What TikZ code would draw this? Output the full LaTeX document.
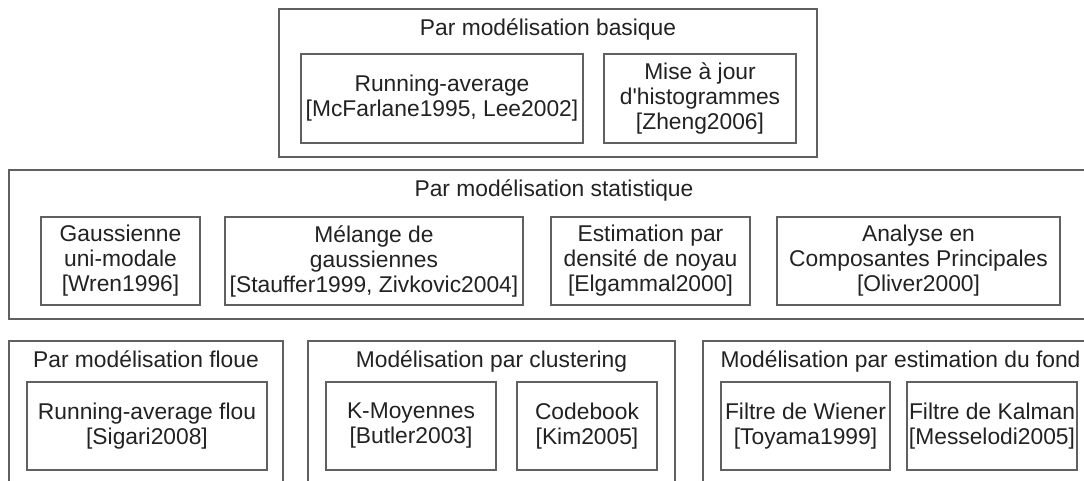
\documentclass[tikz,border=0pt]{standalone}
\usepackage{fontspec}
\setmainfont{Liberation Sans}[Ligatures=TeXOff]
\definecolor{linegray}{HTML}{606060}
\definecolor{textgray}{HTML}{222222}
\begin{document}
\begin{tikzpicture}[x=1pt,y=-1pt,
  txt/.style={font=\fontsize{22.8}{25}\selectfont, text=textgray, align=center, inner sep=0pt},
  outbox/.style={draw=linegray, line width=1.3pt, rectangle, inner sep=0pt},
  inbox/.style={txt, draw=linegray, line width=1.3pt, rectangle, minimum height=88pt},
  grouptitle/.style={txt, anchor=base}]
\clip (0,0) rectangle (1084,480);
\fill[white] (0,0) rectangle (1084,480);

% Par modelisation basique
\node[outbox, minimum width=538pt, minimum height=148pt] (basic) at (548,83) {};
\node[grouptitle] (basict) at (548,35) {Par modélisation basique};
\node[inbox, minimum width=282pt, minimum height=89pt] (ra) at (442,98.5) {Running-average\\{}[McFarlane1995, Lee2002]};
\node[inbox, minimum width=192pt, minimum height=89pt] (maj) at (700,98.5) {Mise à jour\\d'histogrammes\\{}[Zheng2006]};

% Par modelisation statistique
\node[outbox, minimum width=1090pt, minimum height=149pt] (stat) at (554,244.5) {};
\node[grouptitle] (statt) at (554,196) {Par modélisation statistique};
\node[inbox, minimum width=159pt] (gauss) at (120.5,261) {Gaussienne\\uni-modale\\{}[Wren1996]};
\node[inbox, minimum width=298pt] (mel) at (374,261) {Mélange de\\gaussiennes\\{}[Stauffer1999, Zivkovic2004]};
\node[inbox, minimum width=199pt] (est) at (650.5,261) {Estimation par\\densité de noyau\\{}[Elgammal2000]};
\node[inbox, minimum width=283pt] (acp) at (918.5,261) {Analyse en\\Composantes Principales\\{}[Oliver2000]};

% Par modelisation floue
\node[outbox, minimum width=274pt, minimum height=154pt] (floue) at (146,418) {};
\node[grouptitle] (flouet) at (146,367) {Par modélisation floue};
\node[inbox, minimum width=240pt] (raf) at (147,426) {Running-average flou\\{}[Sigari2008]};

% Modelisation par clustering
\node[outbox, minimum width=367pt, minimum height=154pt] (clust) at (491.5,418) {};
\node[grouptitle] (clustt) at (491.5,367) {Modélisation par clustering};
\node[inbox, minimum width=170pt] (km) at (411,426) {K-Moyennes\\{}[Butler2003]};
\node[inbox, minimum width=140pt] (cb) at (587,426) {Codebook\\{}[Kim2005]};

% Modelisation par estimation du fond
\node[outbox, minimum width=395pt, minimum height=154pt] (fond) at (900.5,418) {};
\node[grouptitle] (fondt) at (900.5,367) {Modélisation par estimation du fond};
\node[inbox, minimum width=169pt] (wiener) at (805.5,426) {Filtre de Wiener\\{}[Toyama1999]};
\node[inbox, minimum width=170pt] (kalman) at (992,426) {Filtre de Kalman\\{}[Messelodi2005]};
\end{tikzpicture}
\end{document}
